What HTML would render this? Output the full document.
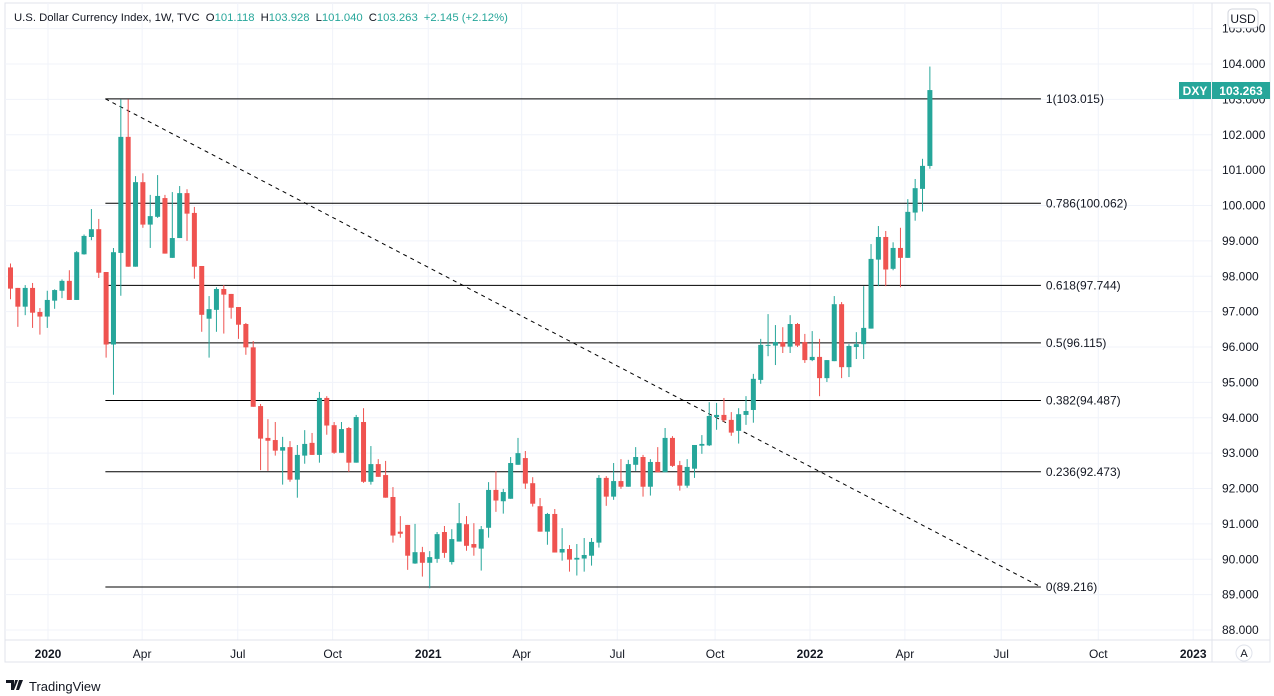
<!DOCTYPE html>
<html><head><meta charset="utf-8"><style>
html,body{margin:0;padding:0;background:#fff;width:1274px;height:696px;overflow:hidden;font-family:"Liberation Sans",sans-serif}
svg text{font-family:"Liberation Sans",sans-serif}
</style></head><body>
<svg id="chart" width="1274" height="696" xmlns="http://www.w3.org/2000/svg">
<rect x="5" y="3" width="1265" height="659" fill="none" stroke="#e0e3eb"/>
<g id="grid"></g>
<g id="fib"></g>
<g id="candles"></g>
<g id="yaxis"></g>
<g id="xaxis"></g>
<line x1="1212" y1="3" x2="1212" y2="662" stroke="#e0e3eb"/>
<line x1="5" y1="640" x2="1270" y2="640" stroke="#e0e3eb"/>
<text x="14" y="21" font-size="11.3" fill="#131722">U.S. Dollar Currency Index, 1W, TVC <tspan dx="3">O</tspan><tspan fill="#26a69a">101.118</tspan><tspan dx="6">H</tspan><tspan fill="#26a69a">103.928</tspan><tspan dx="6">L</tspan><tspan fill="#26a69a">101.040</tspan><tspan dx="6">C</tspan><tspan fill="#26a69a">103.263</tspan><tspan dx="6" fill="#26a69a">+2.145 (+2.12%)</tspan></text>
<rect x="1228" y="9" width="30" height="19" rx="4" fill="#fff" stroke="#d1d4dc"/>
<text x="1243" y="23" font-size="12" text-anchor="middle" fill="#131722">USD</text>
<rect x="1179" y="82" width="32" height="17" fill="#26a69a"/>
<text x="1195" y="95" font-size="12" font-weight="bold" text-anchor="middle" fill="#fff">DXY</text>
<rect x="1212" y="82" width="58" height="17" fill="#26a69a"/>
<text x="1241" y="95" font-size="12" font-weight="bold" text-anchor="middle" fill="#fff">103.263</text>
<circle cx="1244" cy="653" r="8" fill="#fff" stroke="#e0e3eb"/>
<text x="1244" y="657" font-size="11" text-anchor="middle" fill="#131722">A</text>
<g>
<path d="M6 680h8v10h-3v-7h-5z M15 680h3l-4 10h-1z M19 680h4l-4 10h-3z" fill="#131722"/>
<text x="29" y="691" font-size="13" fill="#131722">TradingView</text>
</g>
</svg>
<script>
const open =[98.25,97.67,97.14,97.67,96.99,96.86,97.31,97.59,97.87,97.33,98.62,99.11,99.33,98.12,96.07,98.66,101.94,98.27,100.66,99.46,99.68,100.21,98.52,99.08,100.35,99.79,98.29,96.80,97.05,97.64,97.50,97.13,96.65,95.99,94.33,93.43,93.37,93.07,93.17,92.25,92.93,93.29,92.95,94.56,93.79,93.01,93.71,92.73,93.88,92.19,92.69,92.38,91.76,90.78,90.97,89.88,90.20,89.90,90.01,90.77,89.92,90.50,90.99,90.43,90.30,90.89,91.96,91.64,91.71,92.67,92.86,92.15,91.50,90.78,91.28,90.19,90.29,89.99,90.02,90.10,90.47,92.30,91.77,92.21,92.05,92.67,92.89,92.05,92.75,92.46,93.43,92.66,92.08,92.56,93.21,93.22,94.02,94.08,93.94,93.63,94.08,94.22,95.07,96.04,96.04,96.14,96.01,96.65,96.14,95.63,95.72,95.12,95.60,97.21,95.43,96.00,96.08,96.52,98.47,99.11,98.21,98.80,98.52,99.80,100.47,101.118];
const high =[98.36,97.67,97.75,97.81,97.10,97.59,97.63,97.91,98.17,98.71,99.18,99.90,99.62,98.12,98.80,103.0,103.0,100.83,100.91,100.30,100.86,100.30,100.38,100.55,100.46,99.96,98.29,97.44,97.69,97.75,97.50,97.13,96.68,96.17,94.39,93.96,93.88,93.46,93.34,93.23,93.65,93.57,94.73,94.61,93.88,93.88,93.74,94.08,94.27,93.20,92.83,92.78,92.04,91.22,90.97,91.0,90.35,90.23,90.77,90.94,90.85,91.59,91.22,91.02,90.94,92.18,92.49,91.99,92.89,93.43,93.06,92.32,91.73,91.31,91.42,90.88,90.40,90.43,90.60,90.60,92.38,92.35,92.72,92.83,92.81,93.17,92.95,92.83,93.17,93.71,93.48,92.78,92.83,93.23,93.51,94.44,94.42,94.56,94.16,94.27,94.61,95.24,96.23,96.93,96.62,96.56,96.90,96.68,96.37,96.45,96.23,95.63,97.44,97.27,96.08,96.42,97.72,98.91,99.42,99.28,98.96,99.37,100.18,100.75,101.32,103.928];
const low  =[97.35,96.57,96.90,96.54,96.35,96.54,97.08,97.38,97.33,97.33,98.61,99.02,97.95,95.70,94.65,97.45,98.27,98.27,99.37,98.80,99.65,98.64,98.52,99.08,99.0,97.93,96.43,95.70,96.43,96.38,96.80,96.23,95.78,94.31,92.52,92.50,92.93,92.11,92.19,91.74,92.70,92.95,92.73,93.52,92.98,93.01,92.47,92.73,92.16,92.11,92.33,91.74,90.47,90.61,89.70,89.87,89.51,89.18,89.90,90.04,89.85,90.50,90.24,90.10,89.68,90.61,91.34,91.29,91.71,92.67,91.99,91.49,90.78,90.41,90.19,89.96,89.65,89.54,89.65,89.82,90.33,91.51,91.68,91.99,92.05,92.50,91.77,91.80,92.46,92.46,92.61,91.94,92.02,92.30,92.98,93.20,93.66,93.88,93.49,93.27,93.80,93.86,94.96,95.74,95.49,95.83,95.83,96.00,95.55,95.60,94.61,95.01,95.60,95.12,95.15,95.66,95.66,96.52,97.72,97.72,98.17,97.69,98.52,99.57,99.83,101.04];
const close=[97.65,97.14,97.67,96.97,96.86,97.33,97.61,97.87,97.33,98.68,99.14,99.33,98.10,96.07,98.68,101.94,98.27,100.66,99.46,99.70,100.27,98.64,99.08,100.35,99.77,98.27,96.91,97.07,97.64,97.48,97.11,96.63,95.99,94.31,93.41,93.35,93.07,93.17,92.25,92.95,93.26,92.95,94.56,93.78,93.01,93.68,92.73,94.02,92.19,92.69,92.33,91.74,90.67,90.72,90.10,90.20,89.90,90.06,90.71,90.18,90.57,91.02,90.38,90.33,90.85,91.96,91.66,91.90,92.72,93.00,92.14,91.57,90.78,91.28,90.19,90.29,89.99,90.04,90.12,90.49,92.30,91.77,92.21,92.05,92.69,92.89,92.05,92.75,92.46,93.43,92.64,92.08,92.61,93.23,93.26,94.05,94.08,93.93,93.58,94.10,94.19,95.10,96.06,96.06,96.14,96.01,96.65,96.04,95.63,95.72,95.12,95.63,97.21,95.43,96.03,96.08,96.54,98.49,99.11,98.19,98.80,98.52,99.82,100.49,101.12,103.263];
const priceTicks=[88,89,90,91,92,93,94,95,96,97,98,99,100,101,102,103,104,105];
const timeLabels=["2020","Apr","Jul","Oct","2021","Apr","Jul","Oct","2022","Apr","Jul","Oct","2023"];
const timeWeeks=[5.1,17.9,30.9,43.8,56.8,69.5,82.5,95.8,108.7,121.6,134.7,147.9,160.8];
const fibLevels=[1,0.786,0.618,0.5,0.382,0.236,0];
const fibHigh=103.015, fibLow=89.216;
const fibStartWeek=12.9, fibEndWeek=140.1;

const NS="http://www.w3.org/2000/svg";
const y=p=>64+(104-p)*35.375;
const x=i=>10.5+i*7.355;
function mk(parent,tag,attrs){const e=document.createElementNS(NS,tag);for(const k in attrs)e.setAttribute(k,attrs[k]);document.getElementById(parent).appendChild(e);return e;}

priceTicks.forEach(p=>{
  const g=mk('grid','line',{x1:5,x2:1212,y1:y(p),y2:y(p),stroke:'#f0f3fa'});
  
  
  const t=mk('yaxis','text',{x:1222,y:y(p)+4,'font-size':12,fill:'#131722'});
  t.textContent=p.toFixed(3);
  
  
});
timeLabels.forEach((l,i)=>{
  const xx=x(timeWeeks[i]);
  const g=mk('grid','line',{x1:xx,x2:xx,y1:3,y2:640,stroke:'#f0f3fa'});
  
  
  const bold=/^\d{4}$/.test(l);
  const t=mk('xaxis','text',{x:xx,y:658,'font-size':12,'text-anchor':'middle',fill:'#131722','font-weight':bold?'bold':'normal'});
  t.textContent=l;
  
  
});
const fx1=x(fibStartWeek), fx2=x(fibEndWeek);
fibLevels.forEach(l=>{
  const p=fibLow+(fibHigh-fibLow)*l;
  const ln=mk('fib','line',{x1:fx1,x2:fx2,y1:y(p),y2:y(p),stroke:'#000','stroke-width':1});
  
  
  const t=mk('fib','text',{x:fx2+5,y:y(p)+4,'font-size':12,fill:'#131722'});
  t.textContent=l+'('+p.toFixed(3)+')';
  
  
});
const tl=mk('fib','line',{x1:fx1,y1:y(fibHigh),x2:fx2,y2:y(fibLow),stroke:'#000','stroke-dasharray':'4,4'});



open.forEach((o,i)=>{
  const c=close[i], up=c>=o, col=up?'#26a69a':'#ef5350', cx=x(i);
  const w=mk('candles','line',{x1:cx,x2:cx,y1:y(high[i]),y2:y(low[i]),stroke:col,'stroke-width':1});
  
  
  const top=y(Math.max(o,c)), h=Math.max(1,y(Math.min(o,c))-top);
  const b=mk('candles','rect',{x:cx-2.5,y:top,width:5,height:h,fill:col});
  
  
});
</script>
</body></html>
